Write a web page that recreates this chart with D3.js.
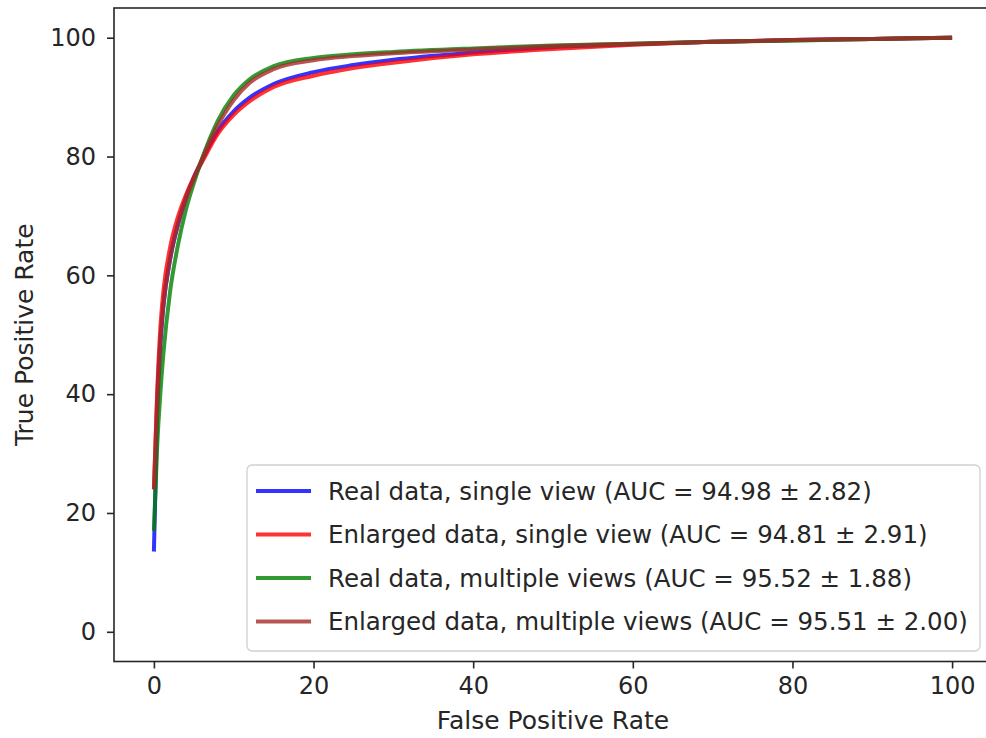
<!DOCTYPE html>
<html><head><meta charset="utf-8">
<script src="https://cdn.jsdelivr.net/npm/d3@7"></script>
<style>
html,body{margin:0;padding:0;background:#fff;}
text{font-family:"DejaVu Sans",sans-serif;fill:#262626;}
</style></head>
<body><svg id="chart" width="986" height="738"></svg>
<script>
const fpr = [0, 0.4, 0.8, 1.2, 2, 3, 4, 5, 6, 8, 10, 12, 15, 20, 25, 30, 40, 50, 60, 70, 80, 90, 100];
const tprRealSingle = [13.5, 36, 48, 55, 62.5, 68.5, 73, 76.5, 79.3, 84.3, 87.6, 89.9, 92.2, 94.2, 95.4, 96.3, 97.5, 98.4, 98.9, 99.3, 99.6, 99.8, 100];
const tprEnlargedSingle = [24, 40, 51, 57.5, 64.5, 69.8, 73.5, 76.5, 79, 83.8, 87, 89.3, 91.7, 93.6, 94.9, 95.8, 97.2, 98.1, 98.8, 99.3, 99.6, 99.8, 100];
const tprRealMulti = [17, 31, 40, 47, 57, 65, 71, 75.5, 79.5, 86, 90.3, 93, 95.2, 96.6, 97.2, 97.6, 98.2, 98.7, 99.0, 99.3, 99.5, 99.8, 100];
const tprEnlargedMulti = [24, 39, 49, 55, 62.5, 68.5, 72.8, 76.2, 79.5, 85.2, 89.5, 92.4, 94.7, 96.2, 96.9, 97.4, 98.0, 98.6, 99.0, 99.3, 99.6, 99.8, 100];
const seriesLabels = [
  "Real data, single view (AUC = 94.98 \u00b1 2.82)",
  "Enlarged data, single view (AUC = 94.81 \u00b1 2.91)",
  "Real data, multiple views (AUC = 95.52 \u00b1 1.88)",
  "Enlarged data, multiple views (AUC = 95.51 \u00b1 2.00)"
];
const seriesColors = ["#0000ff", "#ff0000", "#008000", "#a52a2a"];
const xTicks = [0, 20, 40, 60, 80, 100];
const yTicks = [0, 20, 40, 60, 80, 100];

const series = [tprRealSingle, tprEnlargedSingle, tprRealMulti, tprEnlargedMulti];

const svg = d3.select("#chart");
const L = 114, R = 992, T = 8, B = 661.5;
const x = d3.scaleLinear().domain([-5, 105]).range([L, R]);
const y = d3.scaleLinear().domain([-5, 105]).range([B, T]);

const line = d3.line().x(d => x(d[0])).y(d => y(d[1])).curve(d3.curveMonotoneX);
const plot = svg.append("g");
series.forEach((s, i) => {
  plot.append("path")
    .datum(fpr.map((f, j) => [f, s[j]]))
    .attr("d", line)
    .attr("fill", "none")
    .attr("stroke", seriesColors[i])
    .attr("stroke-opacity", 0.8)
    .attr("stroke-width", 4)
    .attr("stroke-linejoin", "round");
});

// axes
const xAxis = svg.append("g").attr("transform", `translate(0,${B})`)
  .call(d3.axisBottom(x).tickValues(xTicks).tickSize(7).tickPadding(8).tickFormat(d3.format("d")));
const yAxis = svg.append("g").attr("transform", `translate(${L},0)`)
  .call(d3.axisLeft(y).tickValues(yTicks).tickSize(7).tickPadding(11).tickFormat(d3.format("d")));
[xAxis, yAxis].forEach(a => {
  a.select(".domain").remove();
  a.selectAll(".tick line").attr("stroke", "#262626").attr("stroke-width", 1.6);
  a.selectAll(".tick text").attr("font-size", 24).attr("font-family", "DejaVu Sans").attr("fill", "#262626");
});

// frame
svg.append("rect").attr("x", L).attr("y", T).attr("width", R - L).attr("height", B - T)
  .attr("fill", "none").attr("stroke", "#262626").attr("stroke-width", 1.6);

// axis labels
svg.append("text").attr("x", (L + R) / 2).attr("y", 729).attr("text-anchor", "middle")
  .attr("font-size", 25).text("False Positive Rate");
svg.append("text").attr("transform", `translate(33,${(T + B) / 2}) rotate(-90)`).attr("text-anchor", "middle")
  .attr("font-size", 25).text("True Positive Rate");

// legend
const lg = svg.append("g");
lg.append("rect").attr("x", 247).attr("y", 465).attr("width", 733).attr("height", 186)
  .attr("rx", 5).attr("fill", "#fff").attr("fill-opacity", 0.8)
  .attr("stroke", "#d0d0d0").attr("stroke-width", 1.3);
seriesLabels.forEach((lab, i) => {
  const yy = 491 + i * 43.5;
  lg.append("line").attr("x1", 256).attr("x2", 311).attr("y1", yy).attr("y2", yy)
    .attr("stroke", seriesColors[i]).attr("stroke-opacity", 0.8).attr("stroke-width", 4);
  lg.append("text").attr("x", 328).attr("y", yy).attr("dy", "0.36em")
    .attr("font-size", 24.5).text(lab);
});
</script></body></html>
